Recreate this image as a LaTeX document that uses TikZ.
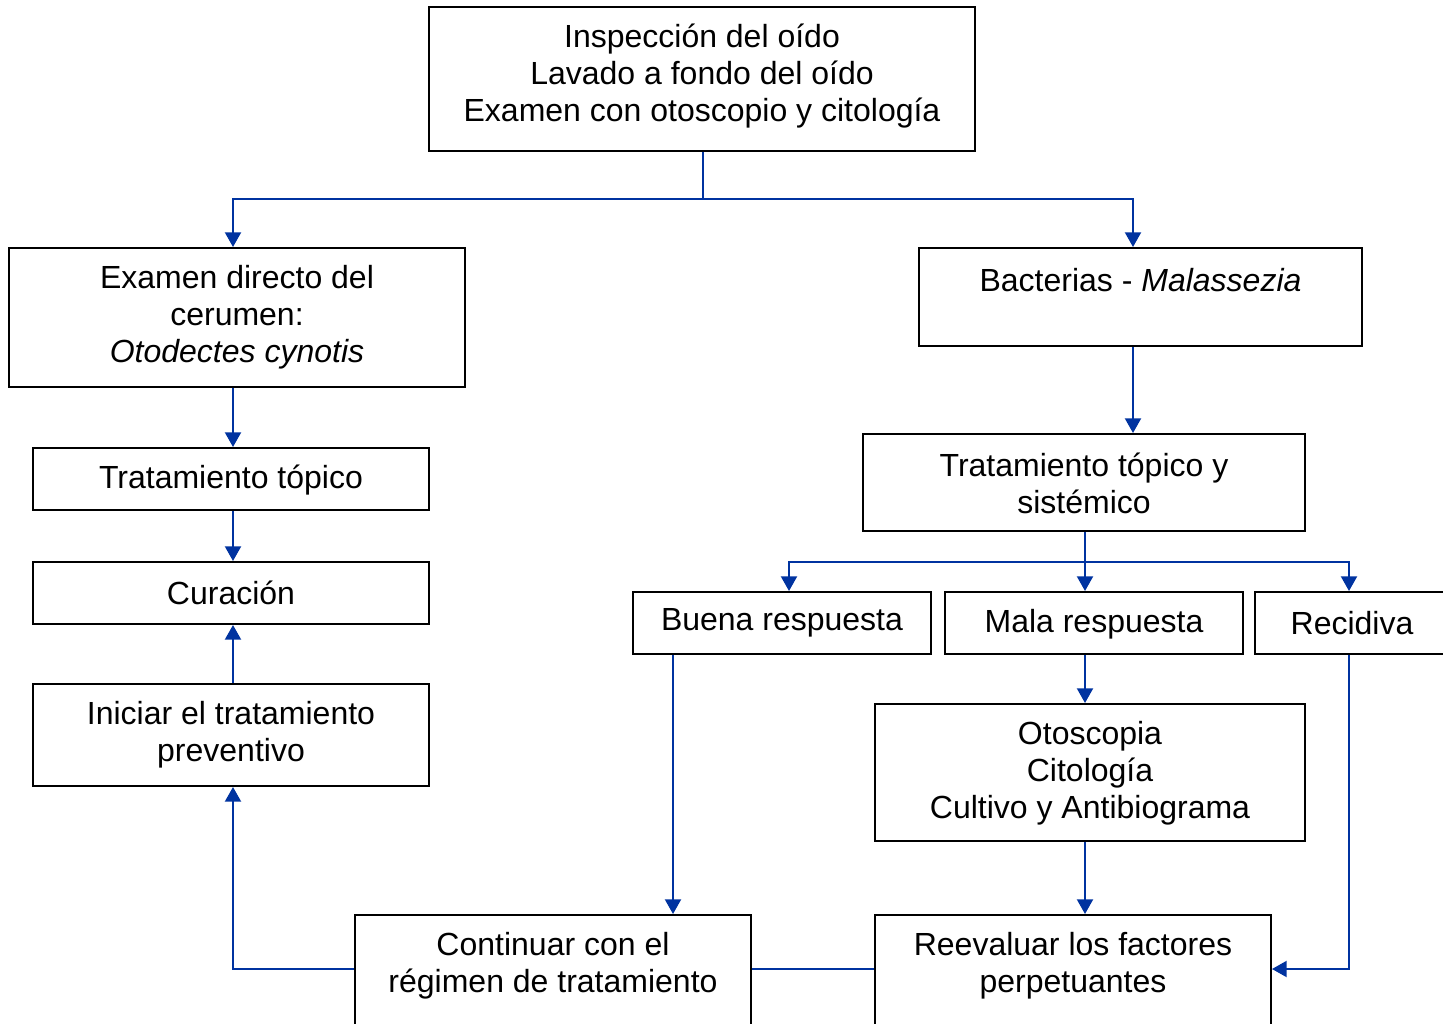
\documentclass[tikz,border=0pt]{standalone}
\usepackage{fontspec}
\setmainfont{Liberation Sans}
\usetikzlibrary{arrows.meta}
\definecolor{linkblue}{RGB}{0,51,160}
\begin{document}
\begin{tikzpicture}[x=0.75pt,y=-0.75pt,
  box/.style={draw=black,line width=1.5pt,rectangle,inner sep=0pt,fill=white},
  txt/.style={inner sep=0pt,align=center,font=\fontsize{24pt}{27.75pt}\selectfont},
  link/.style={draw=linkblue,line width=1.5pt},
  arr/.style={link,-{Triangle[length=11pt,width=12pt]}}]
\useasboundingbox (0,0) rectangle (1443,1024);
\clip (0,0) rectangle (1443,1024);
% boxes
\node[box,minimum width=409.5pt,minimum height=108pt] (top) at (702,79) {};
\node[box,minimum width=342pt,minimum height=104.25pt] (exam) at (237,317.5) {};
\node[box,minimum width=332.25pt,minimum height=73.5pt] (bact) at (1140.5,297) {};
\node[box,minimum width=297pt,minimum height=46.5pt] (ttop) at (231,479) {};
\node[box,minimum width=297pt,minimum height=46.5pt] (cura) at (231,593) {};
\node[box,minimum width=297pt,minimum height=76.5pt] (ini) at (231,735) {};
\node[box,minimum width=331.5pt,minimum height=72.75pt] (tsis) at (1084,482.5) {};
\node[box,minimum width=223.5pt,minimum height=46.5pt] (buena) at (782,623) {};
\node[box,minimum width=223.5pt,minimum height=46.5pt] (mala) at (1094,623) {};
\node[box,minimum width=145.5pt,minimum height=46.5pt] (reci) at (1352,623) {};
\node[box,minimum width=322.5pt,minimum height=102.75pt] (oto) at (1090,772.5) {};
\node[box,minimum width=297pt,minimum height=105pt] (cont) at (553,985) {};
\node[box,minimum width=297pt,minimum height=105pt] (reev) at (1073,985) {};
% texts
\node[txt] (ttopx) at (702,76) {Inspección del oído\\Lavado a fondo del oído\\Examen con otoscopio y citología};
\node[txt] (texam) at (237,317) {Examen directo del\\cerumen:\\\textit{Otodectes cynotis}};
\node[txt] (tbact) at (1140.5,280) {Bacterias - \textit{Malassezia}};
\node[txt] (tttop) at (231,480) {Tratamiento tópico};
\node[txt] (tcura) at (231,593) {Curación};
\node[txt] (tini) at (231,734.5) {Iniciar el tratamiento\\preventivo};
\node[txt] (ttsis) at (1084,483) {Tratamiento tópico y\\sistémico};
\node[txt] (tbuena) at (782,623) {Buena respuesta};
\node[txt] (tmala) at (1094,624) {Mala respuesta};
\node[txt] (treci) at (1352,623) {Recidiva};
\node[txt] (toto) at (1090,773) {Otoscopia\\Citología\\Cultivo y Antibiograma};
\node[txt] (tcont) at (553,965.5) {Continuar con el\\régimen de tratamiento};
\node[txt] (treev) at (1073,965.5) {Reevaluar los factores\\perpetuantes};
% helper coordinates
\coordinate (xa) at (233,0);
\coordinate (xb) at (1133,0);
\coordinate (xc) at (789,0);
\coordinate (xd) at (1349,0);
\coordinate (xe) at (673,0);
\coordinate (j1) at (703,199);
\coordinate (j2) at (1085,562);
\coordinate (j3) at (1349,969);
\coordinate (j4) at (233,969);
% connectors
\draw[link] (top.south -| j1) -- (j1);
\draw[arr] (j1) -| (exam.north -| xa);
\draw[arr] (j1) -| (bact.north -| xb);
\draw[arr] (bact.south -| xb) -- (tsis.north -| xb);
\draw[arr] (exam.south -| xa) -- (ttop.north -| xa);
\draw[arr] (ttop.south -| xa) -- (cura.north -| xa);
\draw[arr] (ini.north -| xa) -- (cura.south -| xa);
\draw[link] (tsis.south -| j2) -- (j2);
\draw[arr] (j2) -| (buena.north -| xc);
\draw[arr] (j2) -- (mala.north -| j2);
\draw[arr] (j2) -| (reci.north -| xd);
\draw[arr] (buena.south -| xe) -- (cont.north -| xe);
\draw[arr] (mala.south -| j2) -- (oto.north -| j2);
\draw[arr] (oto.south -| j2) -- (reev.north -| j2);
\draw[arr] (reci.south -| j3) -- (j3) -- (reev.east |- j3);
\draw[arr] (cont.west |- j4) -- (j4) -- (ini.south -| j4);
\draw[link] (cont.east |- j4) -- (reev.west |- j4);
\end{tikzpicture}
\end{document}
